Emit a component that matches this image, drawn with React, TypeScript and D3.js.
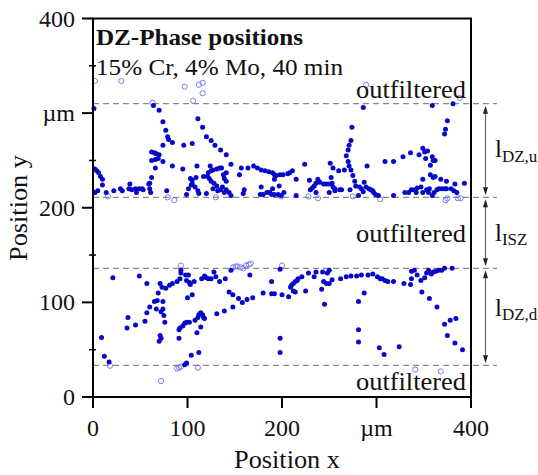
import React from 'react';
import * as d3 from 'd3';

// ---- data (µm) ----
const xTicks = [0, 100, 200, 300, 400];
const xTickLabels = ['0', '100', '200', 'µm', '400'];
const yTicks = [0, 100, 200, 300, 400];
const yTickLabels = ['0', '100', '200', 'µm', '400'];
const yMinorTicks = [50, 150, 250, 350];
const boundaries = [310, 211, 136, 33.5];
const zoneMain = ['l', 'l', 'l'];
const zoneSub = ['DZ,u', 'ISZ', 'DZ,d'];
const titleLine1 = 'DZ-Phase positions';
const titleLine2 = '15% Cr, 4% Mo, 40 min';
const filteredLabel = 'outfiltered';

const upperPoints: [number, number][] = [
  [1,305],[64,308],[70,303],[74,291],[77,282],[79,275],[80,272],[84,269],[74,266],[62,259],[65,258],[67,257],[70,256],[62,250],[66,251],[69,252],[74,249],[84,244],[66,242],[62,232],[60,226],
  [2,241],[4,239],[6,237],[8,233],[10,230],[10,224],[2,216],[5,218],[14,216],[22,218],[29,220],[31,218],[39,225],[38,220],[41,219],[45,220],[46,216],[49,220],[52,220],[53,219],[59,225],[60,220],[61,216],[78,218],
  [96,266],[105,268],[111,294],[116,285],[120,275],[125,271],[129,266],[135,261],[141,256],[146,246],[95,241],[110,244],[124,244],[103,231],[105,229],[109,232],[117,233],[121,233],[122,237],[125,239],[127,240],[131,241],[134,242],[136,242],[123,231],[125,228],[128,226],[138,235],[139,231],[141,228],[141,237],[101,220],[104,224],[105,225],[108,222],[111,218],[112,215],[99,214],[120,215],[127,220],[131,223],[132,218],[135,219],[137,222],[139,216],[141,219],[144,216],[146,213],
  [155,235],[157,242],[164,242],[170,244],[174,242],[178,240],[182,239],[186,238],[190,237],[192,235],[192,230],[194,234],[198,235],[201,235],[206,236],[208,237],[211,239],[160,219],[159,215],[178,222],[177,214],[180,214],[184,216],[187,216],[190,220],[189,214],[192,214],[197,223],[196,214],[199,213],[202,216],
  [286,306],[359,308],[381,310],[375,292],[373,283],[372,278],[274,285],[273,271],[271,266],[270,261],[268,255],[270,249],[271,244],[273,240],[290,244],[275,234],[277,228],[278,223],[282,222],[309,249],[318,249],[328,254],[336,258],[345,256],[349,263],[351,259],[354,260],[352,252],[359,254],[360,250],[362,250],[357,245],[357,235],[360,232],[362,233],[368,230],[374,228],[349,230],[347,222],[343,221],[337,219],[334,216],[330,216],[340,219],[342,216],[349,216],[353,219],[356,220],[355,216],[359,213],[361,216],[364,219],[366,220],[369,220],[372,220],[374,220],[379,220],[383,225],[385,216],[393,226],[382,218],
  [224,246],[215,230],[229,229],[238,230],[236,226],[234,223],[232,221],[230,219],[240,227],[244,225],[247,225],[250,225],[253,226],[252,232],[251,247],[254,242],[260,239],[266,240],[254,222],[256,220],[256,218],[261,219],[263,219],[236,216],[250,216],[272,219],[284,220],[286,217],[287,227],[289,222],[292,220],[294,219],[296,218],[297,216],[299,214],[302,213],[281,213],[318,213],[215,213]
];

const lowerPoints: [number, number][] = [
  [21,126],[49,128],[57,120],[71,120],[73,116],[77,115],[81,118],[84,120],[89,122],[92,125],[93,134],[93,131],[98,129],[101,129],[99,123],[102,121],[103,119],[107,122],[115,125],[118,128],[120,126],[122,125],[125,125],[128,132],[130,127],[134,122],[140,125],[146,134],[166,129],[189,122],[144,111],[148,108],[154,104],[158,100],[163,103],[169,105],[180,110],[189,109],[192,109],[69,110],[65,101],[68,102],[74,101],[60,95],[57,89],[67,93],[72,90],[74,93],[75,86],[76,79],[55,80],[45,76],[36,73],[37,84],[100,105],[105,108],[71,65],[72,62],[70,59],[91,71],[92,73],[95,75],[97,78],[99,79],[102,79],[108,81],[111,84],[112,87],[114,89],[116,87],[117,84],[118,83],[114,74],[110,68],[91,62],[9,63],[12,43],[17,37],[104,44],[112,47],[99,36],[97,34],[131,88],[139,91],[148,95],
  [198,135],[200,108],[207,106],[209,116],[210,118],[212,120],[214,122],[216,123],[217,125],[221,127],[228,131],[234,127],[236,132],[243,132],[248,131],[250,134],[244,122],[247,120],[250,120],[253,124],[242,114],[245,98],[212,112],[214,111],[225,112],[262,125],[268,127],[273,128],[279,128],[284,129],[291,129],[296,130],[301,127],[304,125],[306,125],[309,123],[312,122],[318,122],[329,120],[336,119],[337,133],[340,134],[343,129],[337,125],[347,123],[351,126],[353,131],[355,134],[358,130],[360,132],[363,133],[366,134],[369,134],[372,136],[380,136],[348,111],[356,104],[364,95],[198,62],[198,47],[281,101],[287,110],[281,71],[281,58],[303,52],[308,45],[324,53],[372,77],[378,81],[384,83],[375,65],[383,57],[391,50]
];

const filteredPoints: [number, number][] = [
  [2,334],[30,334],[97,328],[112,330],[116,332],[116,321],[106,313],[63,311],[289,330],[388,316],
  [16,212],[79,211],[86,208],[130,211],[199,212],[228,212],[238,210],[275,212],[304,209],[373,208],[375,210],[386,210],[389,210],
  [93,139],[148,137],[151,138],[153,138],[156,137],[159,136],[162,139],[165,140],[167,141],[200,139],
  [18,33],[72,17],[89,30],[91,31],[93,32],[111,31],[341,29],[368,27]
];

// ---- layout ----
const W = 538, H = 475;
const L = 93, R = 471, T = 18.5, B = 397;
const FONT = '"Liberation Serif", "Times New Roman", serif';

export default function App() {
  const x = d3.scaleLinear().domain([0, 400]).range([L, R]);
  const y = d3.scaleLinear().domain([0, 400]).range([B, T]);
  const dashEnd = 497;
  const arrowX = 485.5;
  const segs = d3.pairs(boundaries);
  const labelY = [157, 241, 316];
  const subDy = [5, 4, 4];

  return (
    <svg width={W} height={H} style={{ position: 'absolute', left: 0, top: 0, background: '#fff' }}
      fontFamily={FONT}>
      <rect x={0} y={0} width={W} height={H} fill="#fff" />
      {boundaries.map((b, i) => (
        <line key={'b' + i} x1={L} x2={dashEnd} y1={y(b)} y2={y(b)} stroke="#8a8a8a" strokeWidth={1.3} strokeDasharray="6,4" />
      ))}
      {segs.map(([a, b], i) => {
        const y1 = y(a) + 2, y2 = y(b) - 2;
        return (
          <g key={'a' + i}>
            <line x1={arrowX} x2={arrowX} y1={y1 + 3} y2={y2 - 3} stroke="#666" strokeWidth={1.2} />
            <path d={`M${arrowX},${y1} L${arrowX - 2.5},${y1 + 8} L${arrowX + 2.5},${y1 + 8} Z`} fill="#222" />
            <path d={`M${arrowX},${y2} L${arrowX - 2.5},${y2 - 8} L${arrowX + 2.5},${y2 - 8} Z`} fill="#222" />
            <text x={495} y={labelY[i]} fontSize={25} fill="#111">
              {zoneMain[i]}
              <tspan fontSize={17} dy={subDy[i]}>{zoneSub[i]}</tspan>
            </text>
          </g>
        );
      })}
      {filteredPoints.map((p, i) => (
        <circle key={'o' + i} cx={x(p[0])} cy={y(p[1])} r={2.6} fill="none" stroke="#6f6ff5" strokeWidth={0.9} />
      ))}
      {upperPoints.concat(lowerPoints).map((p, i) => (
        <circle key={'p' + i} cx={x(p[0])} cy={y(p[1])} r={2.5} fill="#0808c8" />
      ))}
      <rect x={L} y={T} width={R - L} height={B - T} fill="none" stroke="#000" strokeWidth={2} />
      {yTicks.map((t, i) => (
        <g key={'yt' + i}>
          <line x1={L - 11} x2={L} y1={y(t)} y2={y(t)} stroke="#000" strokeWidth={2} />
          <text x={75} y={y(t) + 8} fontSize={24} textAnchor="end" fill="#111">{yTickLabels[i]}</text>
        </g>
      ))}
      {yMinorTicks.map((t, i) => (
        <line key={'ym' + i} x1={L - 4} x2={L + 3} y1={y(t)} y2={y(t)} stroke="#000" strokeWidth={1.5} />
      ))}
      {xTicks.map((t, i) => (
        <g key={'xt' + i}>
          <line x1={x(t)} x2={x(t)} y1={B} y2={B + 11} stroke="#000" strokeWidth={2} />
          <text x={x(t)} y={436} fontSize={24} textAnchor="middle" fill="#111">{xTickLabels[i]}</text>
        </g>
      ))}
      <text x={287} y={468} fontSize={25} textAnchor="middle" fill="#111" textLength={106} lengthAdjust="spacingAndGlyphs">Position x</text>
      <text transform={`translate(27,208) rotate(-90)`} fontSize={25} textAnchor="middle" fill="#111" textLength={106} lengthAdjust="spacingAndGlyphs">Position y</text>
      <text x={96} y={45} fontSize={24} fontWeight="bold" fill="#111" textLength={207} lengthAdjust="spacingAndGlyphs">{titleLine1}</text>
      <text x={96} y={75} fontSize={24} fill="#111" textLength={247} lengthAdjust="spacingAndGlyphs">{titleLine2}</text>
      {[98, 242, 390].map((yy, i) => (
        <text key={'f' + i} x={356} y={yy} fontSize={25} fill="#111" textLength={110} lengthAdjust="spacingAndGlyphs">{filteredLabel}</text>
      ))}
    </svg>
  );
}
